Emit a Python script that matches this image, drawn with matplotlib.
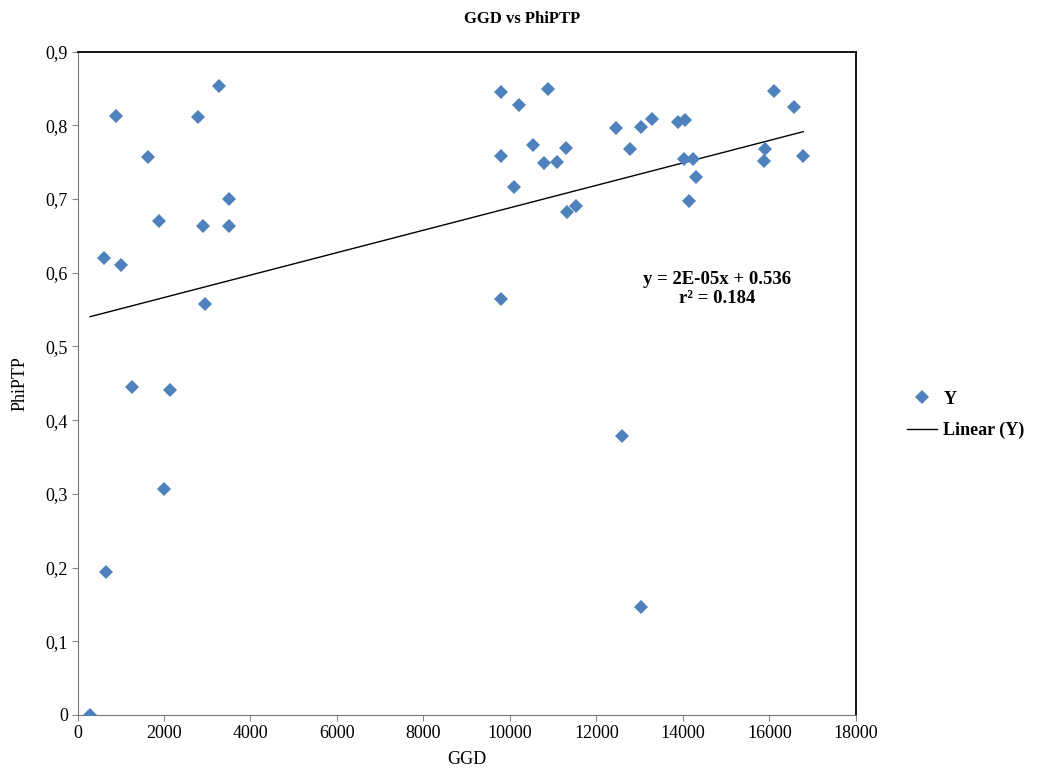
import numpy as np
import matplotlib.pyplot as plt
from matplotlib.ticker import FuncFormatter

plt.rcParams['font.family'] = ['Liberation Serif', 'DejaVu Serif']

# GGD / PhiPTP values
ggd = [289, 620, 652, 890, 1006, 1268, 1623, 1884, 2007, 2139,
       2786, 2909, 2955, 3265, 3496, 3510,
       9785, 9785, 9792, 10085, 10215, 10539, 10779, 10879, 11094, 11288,
       11326, 11519, 12451, 12582, 12767, 13022, 13022, 13276, 13877, 14016,
       14046, 14132, 14224, 14294, 15873, 15903, 16097, 16574, 16782]
phiptp = [0.0, 0.620, 0.194, 0.813, 0.610, 0.445, 0.757, 0.670, 0.306, 0.441,
          0.811, 0.664, 0.558, 0.854, 0.663, 0.700,
          0.758, 0.565, 0.845, 0.716, 0.827, 0.774, 0.749, 0.849, 0.750, 0.769,
          0.682, 0.690, 0.796, 0.379, 0.768, 0.798, 0.146, 0.808, 0.804, 0.754,
          0.807, 0.698, 0.754, 0.730, 0.751, 0.768, 0.847, 0.825, 0.758]

# trend line as shown by the chart (y = a*x + b)
slope = 1.522e-5
intercept = 0.536

fig = plt.figure(figsize=(10.45, 7.77), dpi=100)
ax = fig.add_axes([0.0742, 0.0798, 0.819 - 0.0742, 0.9335 - 0.0798])

ax.plot(ggd, phiptp, linestyle='none', marker='D', ms=7.4, color='#4F81BD',
        markeredgewidth=0, label='Y', zorder=3)
xl = np.array([min(ggd), max(ggd)])
ax.plot(xl, slope * xl + intercept, color='black', lw=1, label='Linear (Y)')

ax.set_xlim(0, 18000)
ax.set_ylim(0, 0.9)
ax.set_xticks(np.arange(0, 18001, 2000))
ax.set_yticks(np.arange(0, 0.91, 0.1))
ax.yaxis.set_major_formatter(FuncFormatter(lambda v, p: '0' if abs(v) < 1e-9 else ('%.1f' % v).replace('.', ',')))
ax.tick_params(direction='out', length=4, color='#888888', labelsize=13, pad=3)

for s in ['left', 'bottom']:
    ax.spines[s].set_color('#777777')
for s in ['top', 'right']:
    ax.spines[s].set_color('black')
    ax.spines[s].set_linewidth(1.3)

ax.set_xlabel('GGD', fontsize=13, labelpad=7)
ax.set_ylabel('PhiPTP', fontsize=13, labelpad=12)
fig.text(0.5, 0.976, 'GGD vs PhiPTP', ha='center', va='center',
         fontsize=12, fontweight='bold')

ax.text(14800, 0.578, 'y = 2E-05x + 0.536\nr² = 0.184',
        ha='center', va='center', fontsize=13.5, fontweight='bold', linespacing=1.15)

fig.legend(loc='center left', bbox_to_anchor=(0.868, 0.466), frameon=False,
           prop={'size': 13, 'weight': 'bold'}, handlelength=1.65,
           handletextpad=0.35, borderpad=0, borderaxespad=0, labelspacing=0.8)

plt.savefig('out.png', dpi=100)
